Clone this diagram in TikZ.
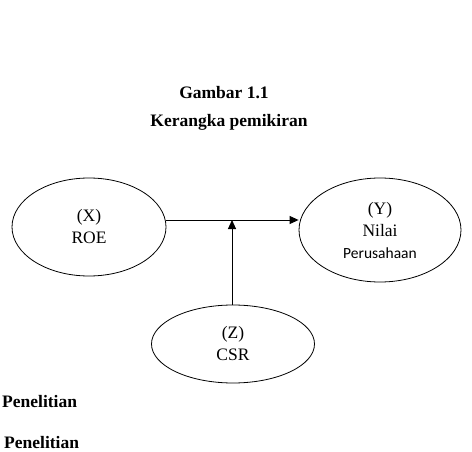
\documentclass[tikz,border=0pt]{standalone}
\usepackage{fontspec}
\setmainfont{Liberation Serif}
\newfontfamily\calibrifont{Carlito}
\usetikzlibrary{shapes.geometric, arrows.meta}

\begin{document}
\begin{tikzpicture}[
    x=1pt, y=-1pt,
    font=\fontsize{17.5}{22}\selectfont,
    % Define styles for consistent blocks
    varnode/.style={ellipse, draw=black, line width=0.8pt, inner sep=0pt, align=center},
    caption/.style={font=\fontsize{17.5}{22}\selectfont\bfseries},
    arrow/.style={-{Triangle[length=9pt,width=8pt]}, line width=1pt}
]
\useasboundingbox (0,0) rectangle (472,452);

% --- Nodes ---

% Title
\node[caption, anchor=base] (title) at (224,99) {Gambar 1.1};
\node[caption, anchor=base] (subtitle) at (229,127) {Kerangka pemikiran};

% Variables
\node[varnode, minimum width=154pt, minimum height=98pt] (x) at (89,227) {(X)\\ROE};
\node[varnode, minimum width=162pt, minimum height=104pt] (y) at (380,230) {(Y)\\Nilai\\{\calibrifont\fontsize{15.5}{19}\selectfont Perusahaan}};
\node[varnode, minimum width=163pt, minimum height=78pt] (z) at (233,344) {(Z)\\CSR};

% Junction on the main line
\coordinate (j) at (232,220);

% Bottom text
\node[caption, anchor=base west, inner sep=0pt] (pen1) at (2,407) {Penelitian};
\node[caption, anchor=base west, inner sep=0pt] (pen2) at (4,448) {Penelitian};

% --- Routing Arrows ---
\draw[arrow] (x.east |- j) -- (y.west |- j);
\draw[arrow] (z.north -| j) -- (j);

\end{tikzpicture}
\end{document}
